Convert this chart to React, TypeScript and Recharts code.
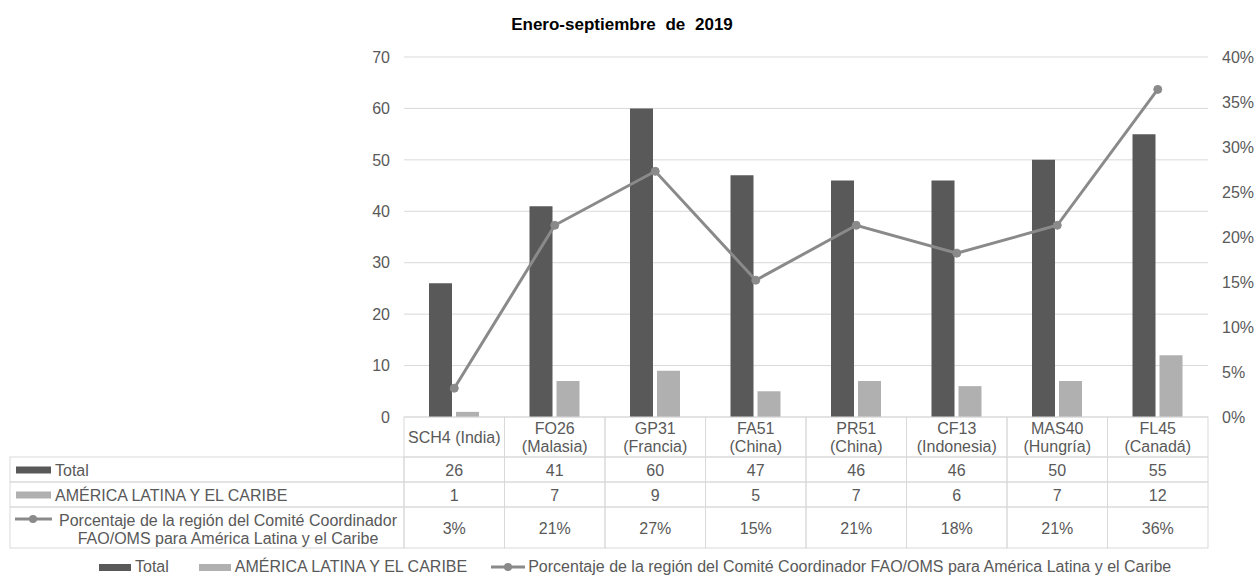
import React from 'react';
import { ComposedChart, Bar, Line, XAxis, YAxis, CartesianGrid } from 'recharts';

// ---------- data ----------
const title = 'Enero-septiembre de 2019';
const categories = [
  'SCH4 (India)',
  'FO26\n(Malasia)',
  'GP31\n(Francia)',
  'FA51\n(China)',
  'PR51\n(China)',
  'CF13\n(Indonesia)',
  'MAS40\n(Hungría)',
  'FL45\n(Canadá)',
];
const totalValues = [26, 41, 60, 47, 46, 46, 50, 55];
const alcValues = [1, 7, 9, 5, 7, 6, 7, 12];
const pctValues = [3.2, 21.3, 27.3, 15.2, 21.3, 18.2, 21.3, 36.4];
const leftTicks = [0, 10, 20, 30, 40, 50, 60, 70];
const rightTicks = [0, 5, 10, 15, 20, 25, 30, 35, 40];
const seriesNames = [
  'Total',
  'AMÉRICA LATINA Y EL CARIBE',
  'Porcentaje de la región del Comité Coordinador FAO/OMS para América Latina y el Caribe',
];
const pctLabelLines = [
  'Porcentaje de la región del Comité Coordinador',
  'FAO/OMS para América Latina y el Caribe',
];

const data = categories.map((name, i) => ({
  name,
  total: totalValues[i],
  alc: alcValues[i],
  pct: pctValues[i],
}));

// ---------- style ----------
const FONT = '"Liberation Sans", Arial, sans-serif';
const TXT = '#595959';
const DARK = '#595959';
const LIGHT = '#b0b0b0';
const LINEC = '#8a8a8a';
const GRID = '#d9d9d9';
const FS = 16;

const W = 1255;
const H = 582;
const LEFT_AXIS_W = 60;
const RIGHT_AXIS_W = 40;
const MARGIN = { top: 57, right: 7, left: 344, bottom: 34 };
const PLOT_W = W - MARGIN.left - MARGIN.right - LEFT_AXIS_W - RIGHT_AXIS_W;
const BW = PLOT_W / categories.length;
const TABLE_LEFT = 10;

const ROW_CAT = 40;
const ROW_TOT = 25;
const ROW_ALC = 25;
const ROW_PCT = 41;

type Kind = 'cat' | 'tot' | 'alc' | 'pct';

function makeTick(kind: Kind, rowH: number) {
  return (props: any) => {
    const { x, y, payload } = props;
    const i: number = props.index ?? payload?.index ?? 0;
    const left = x - BW / 2;
    const cy = y + rowH / 2;
    let content: React.ReactNode = null;
    if (kind === 'cat') {
      const lines = String(categories[i]).split('\n');
      content = lines.map((ln, k) => (
        <text
          key={k}
          x={x}
          y={lines.length === 1 ? cy : y + 11 + k * 18}
          textAnchor="middle"
          dominantBaseline="central"
          fill={TXT}
          fontSize={FS}
          fontFamily={FONT}
        >
          {ln}
        </text>
      ));
    } else {
      const v =
        kind === 'tot'
          ? String(totalValues[i])
          : kind === 'alc'
          ? String(alcValues[i])
          : `${Math.round(pctValues[i])}%`;
      content = (
        <text
          x={x}
          y={cy + 1}
          textAnchor="middle"
          dominantBaseline="central"
          fill={TXT}
          fontSize={FS}
          fontFamily={FONT}
        >
          {v}
        </text>
      );
    }
    let labelCell: React.ReactNode = null;
    if (i === 0 && kind !== 'cat') {
      let icon: React.ReactNode = null;
      let label: React.ReactNode = null;
      if (kind === 'tot' || kind === 'alc') {
        icon = (
          <rect x={TABLE_LEFT + 6} y={cy - 3} width={35} height={7} fill={kind === 'tot' ? DARK : LIGHT} />
        );
        label = (
          <text x={TABLE_LEFT + 45} y={cy + 1} dominantBaseline="central" fill={TXT} fontSize={FS} fontFamily={FONT}>
            {seriesNames[kind === 'tot' ? 0 : 1]}
          </text>
        );
      } else {
        const iy = y + 12;
        icon = (
          <g>
            <line x1={TABLE_LEFT + 5} x2={TABLE_LEFT + 42} y1={iy} y2={iy} stroke={LINEC} strokeWidth={3} />
            <circle cx={TABLE_LEFT + 23} cy={iy} r={4} fill={LINEC} />
          </g>
        );
        label = (
          <g>
            {pctLabelLines.map((ln, k) => (
              <text
                key={k}
                x={228}
                y={y + 13 + k * 18}
                textAnchor="middle"
                dominantBaseline="central"
                fill={TXT}
                fontSize={FS}
                fontFamily={FONT}
              >
                {ln}
              </text>
            ))}
          </g>
        );
      }
      labelCell = (
        <g>
          <rect x={TABLE_LEFT} y={y} width={left - TABLE_LEFT} height={rowH} fill="none" stroke={GRID} strokeWidth={1} />
          {icon}
          {label}
        </g>
      );
    }
    return (
      <g>
        <rect x={left} y={y} width={BW} height={rowH} fill="none" stroke={GRID} strokeWidth={1} />
        {labelCell}
        {content}
      </g>
    );
  };
}

const legendItem = (kind: number) => {
  if (kind < 2) {
    return <span style={{ display: 'inline-block', width: 32, height: 7, background: kind === 0 ? DARK : LIGHT, marginRight: 4 }} />;
  }
  return (
    <svg width={34} height={10} style={{ marginRight: 3 }}>
      <line x1={0} x2={34} y1={5} y2={5} stroke={LINEC} strokeWidth={3} />
      <circle cx={17} cy={5} r={4} fill={LINEC} />
    </svg>
  );
};

const axisCommon = {
  dataKey: 'name',
  orientation: 'bottom' as const,
  axisLine: false,
  tickLine: false,
  tickSize: 0,
  tickMargin: 0,
  interval: 0 as const,
};

export default function App() {
  return (
    <div style={{ position: 'absolute', left: 0, top: 0, width: W, height: H, background: '#fff', fontFamily: FONT }}>
      <div
        style={{
          position: 'absolute',
          left: 0,
          top: 15,
          width: 1244,
          textAlign: 'center',
          fontWeight: 'bold',
          fontSize: 17,
          wordSpacing: 5,
          color: '#000',
          lineHeight: '20px',
        }}
      >
        {title}
      </div>
      <ComposedChart width={W} height={H} data={data} margin={MARGIN}>
        <CartesianGrid vertical={false} stroke={GRID} yAxisId="left" />
        <XAxis xAxisId="a_cat" height={ROW_CAT} tick={makeTick('cat', ROW_CAT)} {...axisCommon} />
        <XAxis xAxisId="b_tot" height={ROW_TOT} tick={makeTick('tot', ROW_TOT)} {...axisCommon} />
        <XAxis xAxisId="c_alc" height={ROW_ALC} tick={makeTick('alc', ROW_ALC)} {...axisCommon} />
        <XAxis xAxisId="d_pct" height={ROW_PCT} tick={makeTick('pct', ROW_PCT)} {...axisCommon} />
        <YAxis
          yAxisId="left"
          orientation="left"
          width={LEFT_AXIS_W}
          domain={[0, 70]}
          ticks={leftTicks}
          axisLine={false}
          tickLine={false}
          tickMargin={8}
          tick={{ fill: TXT, fontSize: FS, fontFamily: FONT }}
        />
        <YAxis
          yAxisId="right"
          orientation="right"
          width={RIGHT_AXIS_W}
          domain={[0, 40]}
          ticks={rightTicks}
          axisLine={false}
          tickLine={false}
          tickMargin={8}
          tickFormatter={(v: number) => `${v}%`}
          tick={{ fill: TXT, fontSize: FS, fontFamily: FONT, textAnchor: 'start' }}
        />
        <Bar xAxisId="a_cat" yAxisId="left" dataKey="total" name={seriesNames[0]} fill={DARK} barSize={23} isAnimationActive={false} />
        <Bar xAxisId="a_cat" yAxisId="left" dataKey="alc" name={seriesNames[1]} fill={LIGHT} barSize={23} isAnimationActive={false} />
        <Line
          xAxisId="a_cat"
          yAxisId="right"
          dataKey="pct"
          name={seriesNames[2]}
          stroke={LINEC}
          strokeWidth={3}
          dot={{ r: 4, fill: LINEC, stroke: LINEC, strokeWidth: 1 }}
          isAnimationActive={false}
        />
      </ComposedChart>
      <div
        style={{
          position: 'absolute',
          left: 99,
          top: 558,
          display: 'flex',
          alignItems: 'center',
          fontSize: FS,
          color: TXT,
          whiteSpace: 'nowrap',
          lineHeight: '18px',
        }}
      >
        <span style={{ display: 'flex', alignItems: 'center', marginRight: 30 }}>
          {legendItem(0)}
          {seriesNames[0]}
        </span>
        <span style={{ display: 'flex', alignItems: 'center', marginRight: 24 }}>
          {legendItem(1)}
          {seriesNames[1]}
        </span>
        <span style={{ display: 'flex', alignItems: 'center' }}>
          {legendItem(2)}
          {seriesNames[2]}
        </span>
      </div>
    </div>
  );
}
